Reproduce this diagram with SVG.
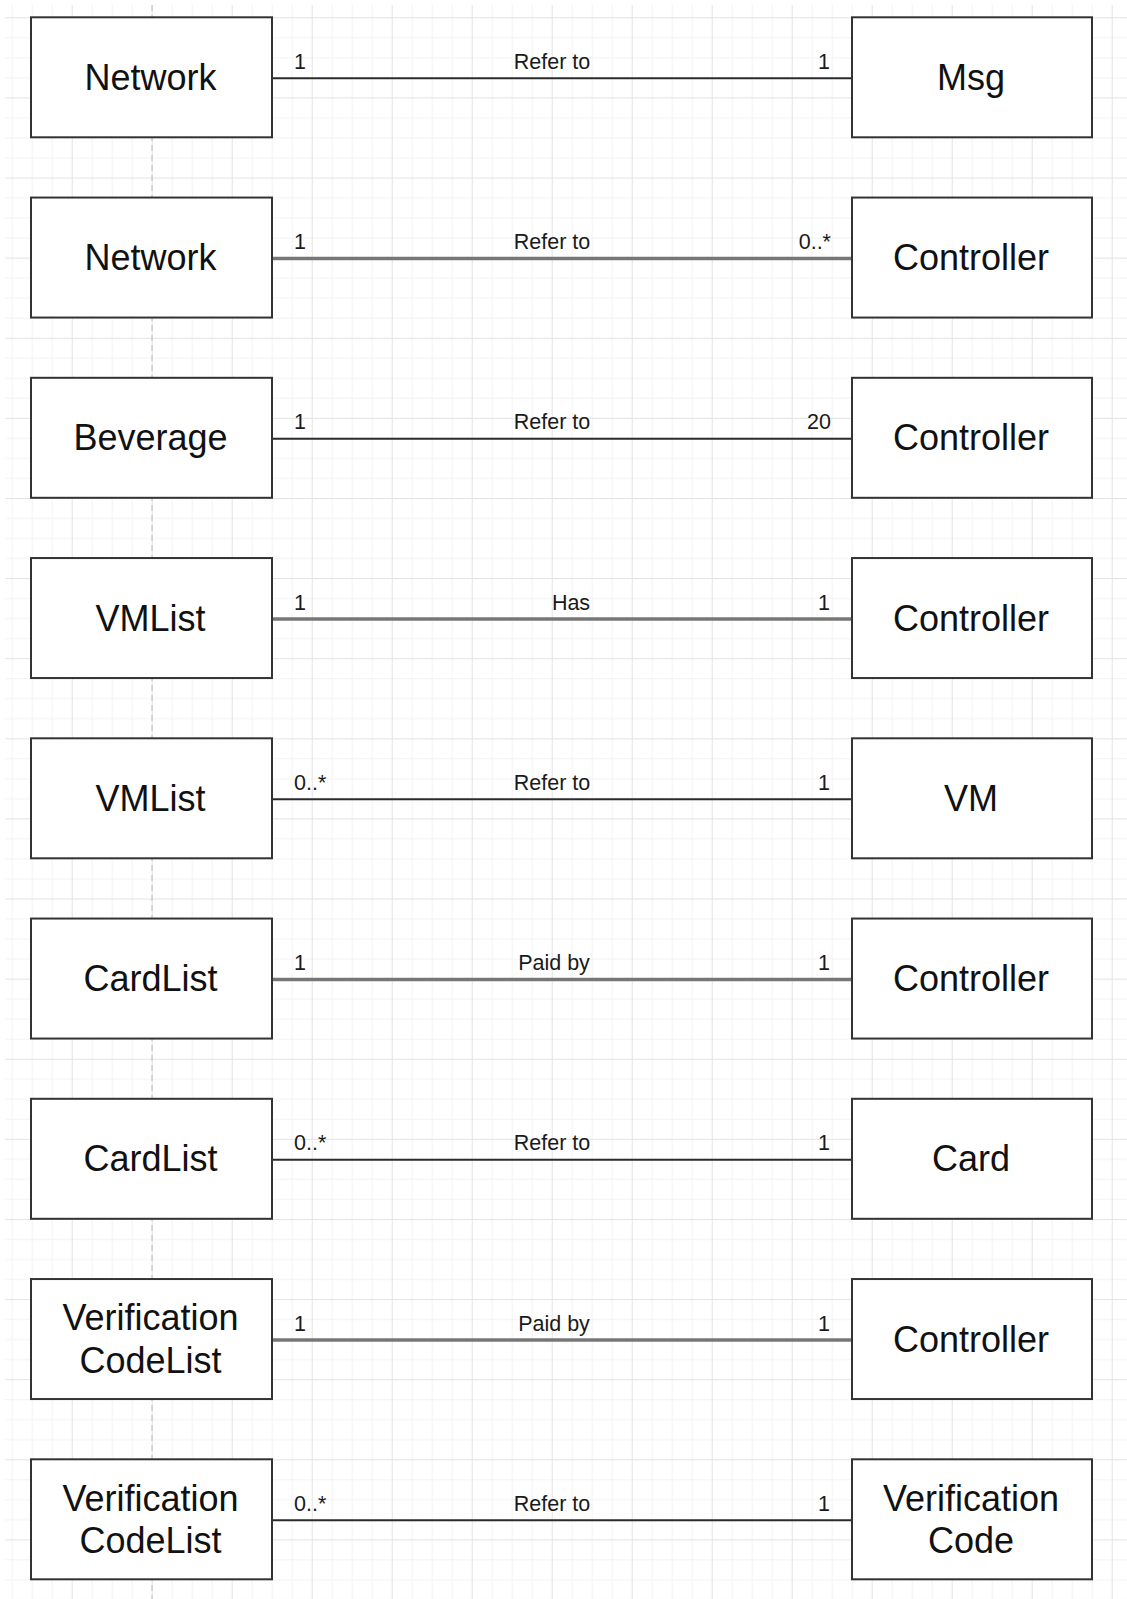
<svg xmlns="http://www.w3.org/2000/svg" width="1127" height="1599" viewBox="0 0 1127 1599">
<style>
.box{fill:#fff;stroke:#333;stroke-width:2}
.nt{font-family:"Liberation Sans",Arial,sans-serif;font-size:36px;fill:#111;text-anchor:middle}
.lb{font-family:"Liberation Sans",Arial,sans-serif;font-size:21.5px;fill:#1a1a1a}
.mid{text-anchor:middle}
.end{text-anchor:end}
.thin{stroke:#2b2b2b;stroke-width:2;fill:none}
.thick{stroke:#777;stroke-width:3.5;fill:none}
</style>
<defs>
<pattern id="grid" patternUnits="userSpaceOnUse" x="71.7" y="17.3" width="80" height="80.11">
<rect x="0" y="0" width="80" height="80.11" fill="#fff"/>
<rect x="20" y="0" width="1" height="80.11" fill="#f3f3f3"/>
<rect x="40" y="0" width="1" height="80.11" fill="#f3f3f3"/>
<rect x="60" y="0" width="1" height="80.11" fill="#f3f3f3"/>
<rect x="0" y="20" width="80" height="1" fill="#f3f3f3"/>
<rect x="0" y="40" width="80" height="1" fill="#f3f3f3"/>
<rect x="0" y="60" width="80" height="1" fill="#f3f3f3"/>
<rect x="0" y="0" width="1" height="80.11" fill="#e3e3e3"/>
<rect x="0" y="0" width="80" height="1" fill="#e3e3e3"/>
</pattern>
</defs>
<rect x="0" y="0" width="1127" height="1599" fill="#fff"/>
<rect x="5" y="5" width="1122" height="1594" fill="url(#grid)"/>
<line x1="152" y1="5" x2="152" y2="1599" stroke="#bbb" stroke-width="1" stroke-dasharray="6,4"/>

<g id="connectors">
<line class="thin" x1="272" y1="78.3" x2="852" y2="78.3"/>
<line class="thick" x1="272" y1="258.55" x2="852" y2="258.55"/>
<line class="thin" x1="272" y1="438.8" x2="852" y2="438.8"/>
<line class="thick" x1="272" y1="619.05" x2="852" y2="619.05"/>
<line class="thin" x1="272" y1="799.3" x2="852" y2="799.3"/>
<line class="thick" x1="272" y1="979.55" x2="852" y2="979.55"/>
<line class="thin" x1="272" y1="1159.8" x2="852" y2="1159.8"/>
<line class="thick" x1="272" y1="1340.05" x2="852" y2="1340.05"/>
<line class="thin" x1="272" y1="1520.3" x2="852" y2="1520.3"/>

<text class="lb" x="294" y="68.8">1</text>
<text class="lb mid" x="552" y="68.8">Refer to</text>
<text class="lb end" x="830" y="68.8">1</text>

<text class="lb" x="294" y="249">1</text>
<text class="lb mid" x="552" y="249">Refer to</text>
<text class="lb end" x="831" y="249">0..*</text>

<text class="lb" x="294" y="429.3">1</text>
<text class="lb mid" x="552" y="429.3">Refer to</text>
<text class="lb end" x="831" y="429.3">20</text>

<text class="lb" x="294" y="609.5">1</text>
<text class="lb mid" x="571" y="609.5">Has</text>
<text class="lb end" x="830" y="609.5">1</text>

<text class="lb" x="294" y="789.8">0..*</text>
<text class="lb mid" x="552" y="789.8">Refer to</text>
<text class="lb end" x="830" y="789.8">1</text>

<text class="lb" x="294" y="970">1</text>
<text class="lb mid" x="554" y="970">Paid by</text>
<text class="lb end" x="830" y="970">1</text>

<text class="lb" x="294" y="1150.3">0..*</text>
<text class="lb mid" x="552" y="1150.3">Refer to</text>
<text class="lb end" x="830" y="1150.3">1</text>

<text class="lb" x="294" y="1330.5">1</text>
<text class="lb mid" x="554" y="1330.5">Paid by</text>
<text class="lb end" x="830" y="1330.5">1</text>

<text class="lb" x="294" y="1510.8">0..*</text>
<text class="lb mid" x="552" y="1510.8">Refer to</text>
<text class="lb end" x="830" y="1510.8">1</text>
</g>

<g id="n1l"><rect class="box" x="31" y="17.3" width="241" height="120"/><text class="nt" x="150.5" y="89.8">Network</text></g>
<g id="n1r"><rect class="box" x="852" y="17.3" width="240" height="120"/><text class="nt" x="971" y="89.8">Msg</text></g>

<g id="n2l"><rect class="box" x="31" y="197.55" width="241" height="120"/><text class="nt" x="150.5" y="270">Network</text></g>
<g id="n2r"><rect class="box" x="852" y="197.55" width="240" height="120"/><text class="nt" x="971" y="270">Controller</text></g>

<g id="n3l"><rect class="box" x="31" y="377.8" width="241" height="120"/><text class="nt" x="150.5" y="450.3">Beverage</text></g>
<g id="n3r"><rect class="box" x="852" y="377.8" width="240" height="120"/><text class="nt" x="971" y="450.3">Controller</text></g>

<g id="n4l"><rect class="box" x="31" y="558.05" width="241" height="120"/><text class="nt" x="150.5" y="630.5">VMList</text></g>
<g id="n4r"><rect class="box" x="852" y="558.05" width="240" height="120"/><text class="nt" x="971" y="630.5">Controller</text></g>

<g id="n5l"><rect class="box" x="31" y="738.3" width="241" height="120"/><text class="nt" x="150.5" y="810.8">VMList</text></g>
<g id="n5r"><rect class="box" x="852" y="738.3" width="240" height="120"/><text class="nt" x="971" y="810.8">VM</text></g>

<g id="n6l"><rect class="box" x="31" y="918.55" width="241" height="120"/><text class="nt" x="150.5" y="991">CardList</text></g>
<g id="n6r"><rect class="box" x="852" y="918.55" width="240" height="120"/><text class="nt" x="971" y="991">Controller</text></g>

<g id="n7l"><rect class="box" x="31" y="1098.8" width="241" height="120"/><text class="nt" x="150.5" y="1171.3">CardList</text></g>
<g id="n7r"><rect class="box" x="852" y="1098.8" width="240" height="120"/><text class="nt" x="971" y="1171.3">Card</text></g>

<g id="n8l"><rect class="box" x="31" y="1279.05" width="241" height="120"/><text class="nt" x="150.5" y="1330">Verification</text><text class="nt" x="150.5" y="1372.5">CodeList</text></g>
<g id="n8r"><rect class="box" x="852" y="1279.05" width="240" height="120"/><text class="nt" x="971" y="1351.5">Controller</text></g>

<g id="n9l"><rect class="box" x="31" y="1459.3" width="241" height="120"/><text class="nt" x="150.5" y="1510.8">Verification</text><text class="nt" x="150.5" y="1552.5">CodeList</text></g>
<g id="n9r"><rect class="box" x="852" y="1459.3" width="240" height="120"/><text class="nt" x="971" y="1510.8">Verification</text><text class="nt" x="971" y="1552.5">Code</text></g>
</svg>
